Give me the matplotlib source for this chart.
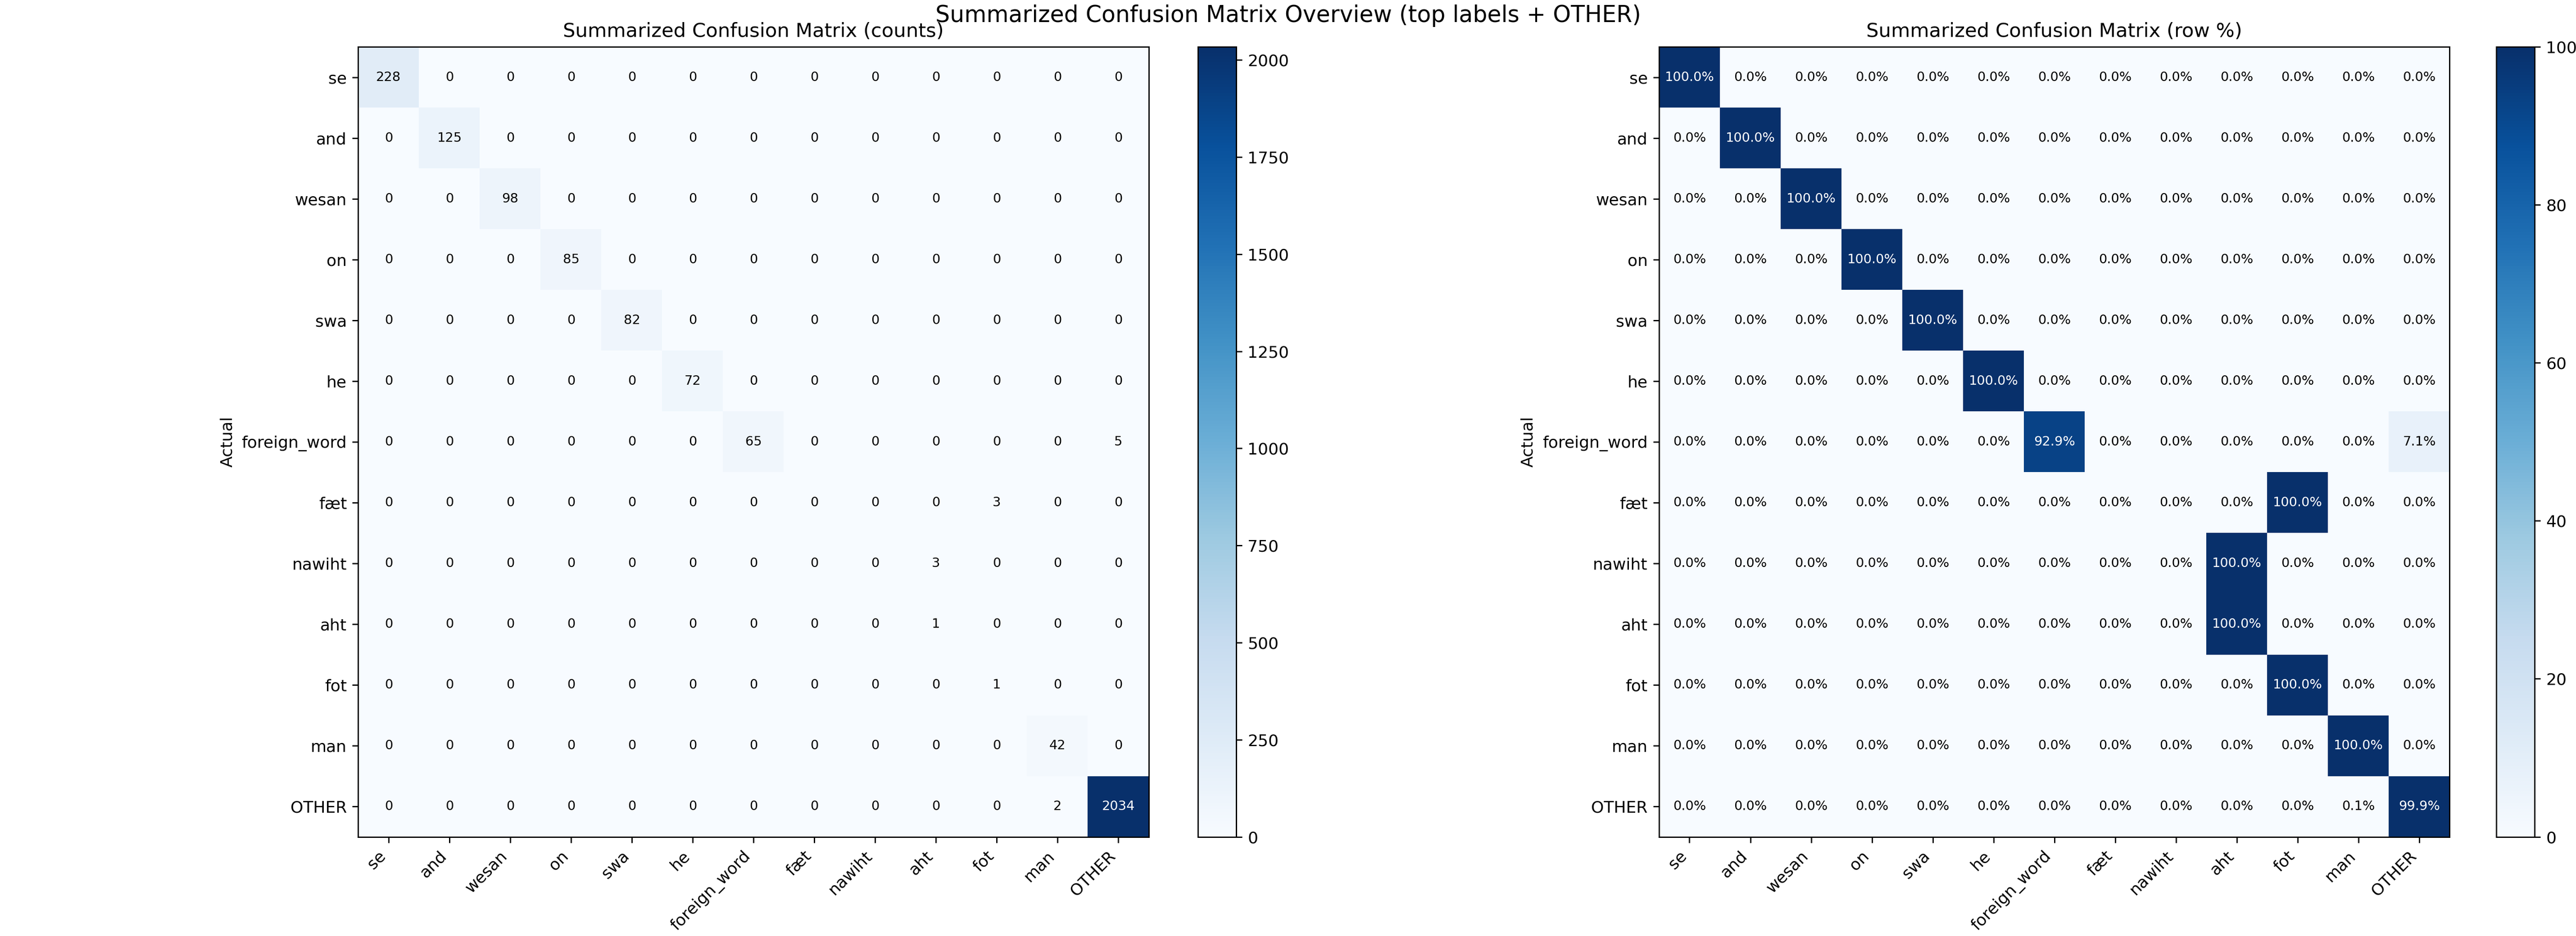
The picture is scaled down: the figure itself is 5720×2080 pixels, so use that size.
import numpy as np
import matplotlib.pyplot as plt

labels = ["se", "and", "wesan", "on", "swa", "he", "foreign_word",
          "fæt", "nawiht", "aht", "fot", "man", "OTHER"]

# row = actual, col = predicted (nonzero cells only)
diag_counts = [228, 125, 98, 85, 82, 72, 65, 0, 0, 1, 1, 42, 2034]
off_diag = [(6, 12, 5), (7, 10, 3), (8, 9, 3), (12, 11, 2)]

cm = np.diag(diag_counts).astype(float)
for r, c, v in off_diag:
    cm[r, c] = v

row_pct = cm / cm.sum(axis=1, keepdims=True) * 100

fig = plt.figure(figsize=(22, 8))
ax1 = fig.add_axes([0.139, 0.106, 0.307, 0.844])
cax1 = fig.add_axes([0.465, 0.106, 0.0149, 0.844])
ax2 = fig.add_axes([0.644, 0.106, 0.307, 0.844])
cax2 = fig.add_axes([0.969, 0.106, 0.0149, 0.844])

def draw(ax, cax, mat, title, fmt, vmax):
    im = ax.imshow(mat, cmap="Blues", vmin=0, vmax=vmax)
    fig.colorbar(im, cax=cax)
    ax.set_title(title)
    ax.set_xticks(range(len(labels)))
    ax.set_yticks(range(len(labels)))
    ax.set_xticklabels(labels, rotation=45, ha="right")
    ax.set_yticklabels(labels)
    ax.set_xlabel("Predicted")
    ax.set_ylabel("Actual")
    thresh = mat.max() / 2
    for i in range(mat.shape[0]):
        for j in range(mat.shape[1]):
            ax.text(j, i, fmt(mat[i, j]), ha="center", va="center", fontsize=8,
                    color="white" if mat[i, j] > thresh else "black")

draw(ax1, cax1, cm, "Summarized Confusion Matrix (counts)", lambda v: f"{int(v)}", cm.max())
draw(ax2, cax2, row_pct, "Summarized Confusion Matrix (row %)", lambda v: f"{v:.1f}%", 100)

fig.suptitle("Summarized Confusion Matrix Overview (top labels + OTHER)", fontsize=14, y=0.995)
plt.savefig("out.png", dpi=260)
